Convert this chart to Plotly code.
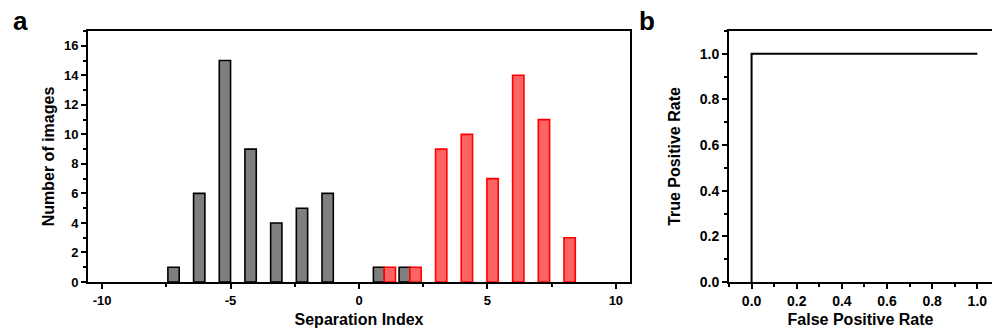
import plotly.graph_objects as go

# Panel a: histogram of separation index
gray_x = [-7.22, -6.22, -5.22, -4.22, -3.22, -2.22, -1.22, 0.78, 1.78]
gray_counts = [1, 6, 15, 9, 4, 5, 6, 1, 1]
red_x = [1.2, 2.2, 3.2, 4.2, 5.2, 6.2, 7.2, 8.2]
red_counts = [1, 1, 9, 10, 7, 14, 11, 3]
xa_ticks = [-10, -5, 0, 5, 10]
xa_labels = ["-10", "-5", "0", "5", "10"]

# Panel b: ROC curve
fpr = [0.0, 0.0, 1.0]
tpr = [0.0, 1.0, 1.0]

W, H = 992, 333
FONT = "Liberation Sans, Arial, sans-serif"

fig = go.Figure()
fig.add_trace(go.Bar(x=gray_x, y=gray_counts, width=0.44,
                     marker=dict(color="#7f7f7f", line=dict(color="black", width=1.6)),
                     xaxis="x", yaxis="y", showlegend=False))
fig.add_trace(go.Bar(x=red_x, y=red_counts, width=0.44,
                     marker=dict(color="#ff6464", line=dict(color="#ff0000", width=1.6)),
                     xaxis="x", yaxis="y", showlegend=False))
fig.add_trace(go.Scatter(x=fpr, y=tpr, mode="lines", line=dict(color="black", width=2),
                         xaxis="x2", yaxis="y2", showlegend=False))

def px(v):
    return v / W

def py(v):
    return 1 - v / H

tickfont_a = dict(family=FONT, size=13, color="black", weight="bold")
tickfont_b = dict(family=FONT, size=14, color="black", weight="bold")

common = dict(showgrid=False, zeroline=False, showline=True, linecolor="black",
              linewidth=2, ticks="outside", tickcolor="black", tickwidth=1.5,
              automargin=False)

fig.update_layout(
    width=W, height=H, margin=dict(l=0, r=0, t=0, b=0),
    paper_bgcolor="white", plot_bgcolor="white", barmode="overlay",
    xaxis=dict(domain=[px(88), px(630)], range=[-10.55, 10.55],
               tickmode="array", tickvals=xa_ticks, ticktext=xa_labels,
               ticklen=5, mirror=True, tickfont=tickfont_a,
               minor=dict(dtick=2.5, tick0=0, ticks="outside", ticklen=3, tickcolor="black"),
               title=dict(text="<b>Separation Index</b>", font=dict(family=FONT, size=16, color="black"), standoff=7),
               anchor="y", **common),
    yaxis=dict(domain=[py(282), py(31)], range=[0, 17], dtick=2, tick0=0,
               ticklen=5, mirror=True, tickfont=tickfont_a,
               minor=dict(dtick=1, tick0=0, ticks="outside", ticklen=3, tickcolor="black"),
               title=dict(text="<b>Number of images</b>", font=dict(family=FONT, size=16, color="black"), standoff=5),
               anchor="x", **common),
    xaxis2=dict(domain=[px(729), 1.0], range=[-0.1, 1.065], dtick=0.2, tick0=0,
                ticklen=5, mirror=True, tickfont=tickfont_b, tickformat=".1f",
                minor=dict(dtick=0.1, tick0=0, ticks="outside", ticklen=3, tickcolor="black"),
                title=dict(text="<b>False Positive Rate</b>", font=dict(family=FONT, size=16, color="black"), standoff=6),
                anchor="y2", **common),
    yaxis2=dict(domain=[py(282), py(31)], range=[0, 1.1], dtick=0.2, tick0=0,
                ticklen=5, mirror=False, tickfont=tickfont_b, tickformat=".1f",
                minor=dict(dtick=0.1, tick0=0, ticks="outside", ticklen=3, tickcolor="black"),
                title=dict(text="<b>True Positive Rate</b>", font=dict(family=FONT, size=16, color="black"), standoff=15),
                anchor="x2", **common),
    annotations=[
        dict(text="<b>a</b>", x=px(11), y=py(4), xref="paper", yref="paper",
             xanchor="left", yanchor="top", showarrow=False,
             font=dict(family=FONT, size=26, color="black")),
        dict(text="<b>b</b>", x=px(637), y=py(4), xref="paper", yref="paper",
             xanchor="left", yanchor="top", showarrow=False,
             font=dict(family=FONT, size=26, color="black")),
    ],
)

fig.write_html("out.html", config={"displayModeBar": False},
               post_script="document.body.style.margin='0px';document.body.style.overflow='hidden';")
